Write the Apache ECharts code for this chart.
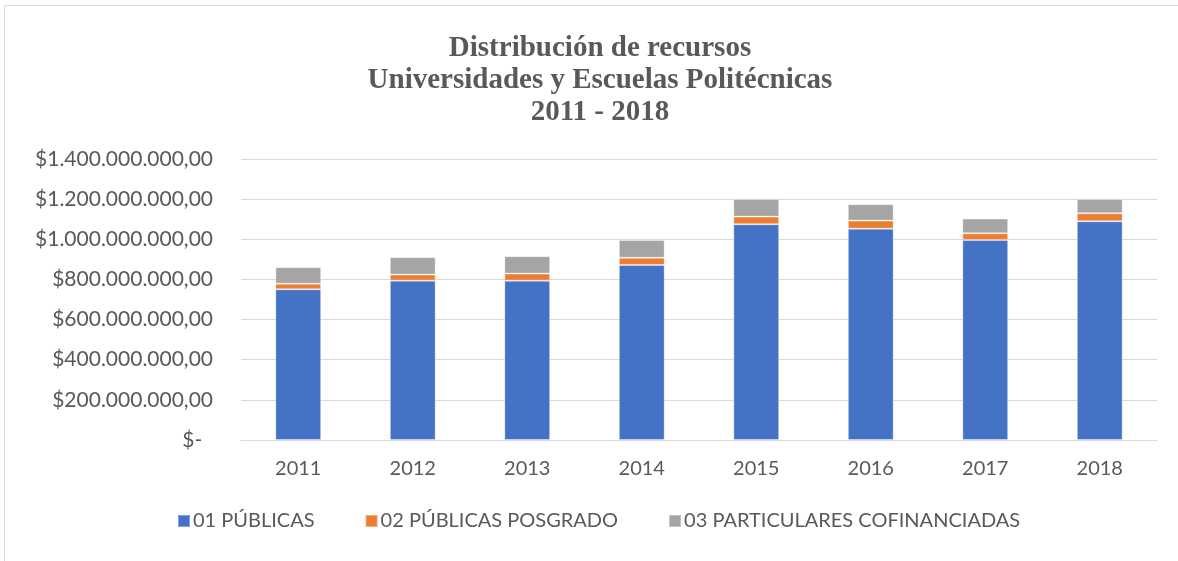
<!DOCTYPE html>
<html>
<head>
<meta charset="utf-8">
<script src="https://cdn.jsdelivr.net/npm/echarts@6/dist/echarts.min.js"></script>
<style>
  html, body { margin: 0; padding: 0; background: #fff; }
  #main { width: 1178px; height: 561px; }
</style>
</head>
<body>
<div id="main"></div>
<script>
  const years = ["2011", "2012", "2013", "2014", "2015", "2016", "2017", "2018"];
  const publicas = [751e6, 794e6, 794e6, 872e6, 1075e6, 1053e6, 997e6, 1090e6];
  const posgrado = [28e6, 30e6, 35e6, 36e6, 38e6, 40e6, 33e6, 40e6];
  const particulares = [82e6, 87e6, 87e6, 88e6, 88e6, 82e6, 73e6, 71e6];

  const colors = ["#4472C4", "#ED7D31", "#A5A5A5"];
  const textColor = "#595959";
  const font = "Lato, 'Open Sans', sans-serif";

  function fmtMoney(v) {
    if (v === 0) return "$-  ";
    const s = String(Math.round(v)).replace(/\B(?=(\d{3})+(?!\d))/g, ".");
    return "$" + s + ",00";
  }

  const chartDom = document.getElementById("main");
  const myChart = echarts.init(chartDom);

  const barStyle = { borderColor: "rgba(255,255,255,0.35)", borderWidth: 1 };

  const option = {
    animation: false,
    backgroundColor: "#fff",
    color: colors,
    title: {
      text: "Distribución de recursos\nUniversidades y Escuelas Politécnicas\n2011 - 2018",
      left: 595,
      textAlign: "center",
      top: 28,
      textStyle: {
        fontFamily: "'Liberation Serif', 'DejaVu Serif', serif",
        fontWeight: "bold",
        fontSize: 29,
        lineHeight: 32,
        color: textColor
      }
    },
    legend: {
      bottom: 25,
      left: 172,
      itemWidth: 12,
      itemHeight: 12,
      itemGap: 50,
      icon: "rect",
      textStyle: { fontFamily: font, fontSize: 20, color: textColor, padding: [0, 0, 0, -2] },
      data: ["01 PÚBLICAS", "02 PÚBLICAS POSGRADO", "03 PARTICULARES COFINANCIADAS"]
    },
    grid: { left: 241, right: 21, top: 159, bottom: 121 },
    xAxis: {
      type: "category",
      data: years,
      axisLine: { lineStyle: { color: "#D9D9D9" } },
      axisTick: { show: false },
      axisLabel: { fontFamily: font, fontSize: 20, color: textColor, margin: 19 }
    },
    yAxis: {
      type: "value",
      min: 0,
      max: 1400e6,
      interval: 200e6,
      axisLine: { show: false },
      axisTick: { show: false },
      splitLine: { lineStyle: { color: "#D9D9D9", width: 1 } },
      axisLabel: {
        fontFamily: font, fontSize: 21, color: textColor, margin: 28,
        formatter: fmtMoney
      }
    },
    series: [
      { name: "01 PÚBLICAS", type: "bar", stack: "t", barWidth: "40%", itemStyle: barStyle, data: publicas },
      { name: "02 PÚBLICAS POSGRADO", type: "bar", stack: "t", itemStyle: barStyle, data: posgrado },
      { name: "03 PARTICULARES COFINANCIADAS", type: "bar", stack: "t", itemStyle: barStyle, data: particulares }
    ],
    graphic: [
      {
        type: "rect",
        shape: { x: 4.5, y: 5.5, width: 1190, height: 600 },
        style: { fill: "none", stroke: "#D9D9D9", lineWidth: 1 },
        silent: true
      }
    ]
  };

  myChart.setOption(option);
</script>
</body>
</html>
